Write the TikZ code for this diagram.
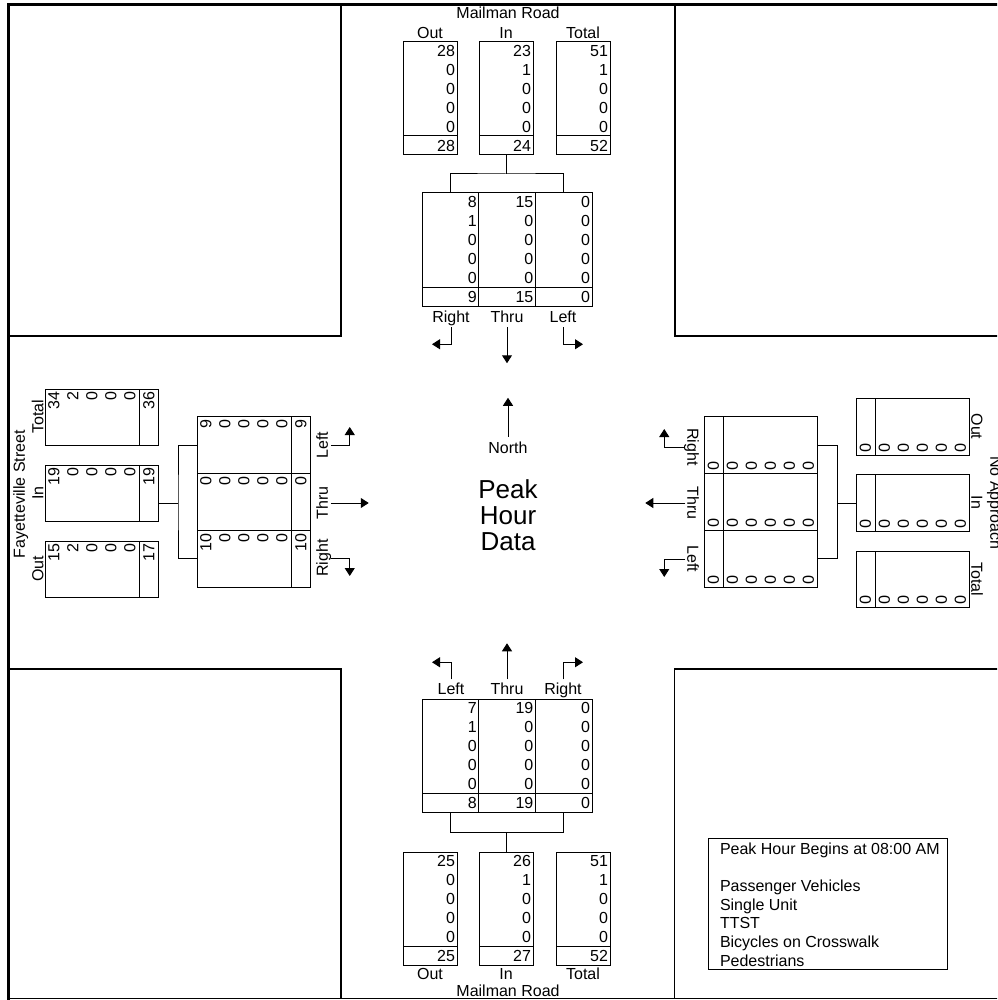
\documentclass[tikz,border=0pt]{standalone}
\usepackage{fontspec}
\setmainfont{Liberation Sans}
\usetikzlibrary{arrows.meta}
\newcommand\colTop[5]{%
  \foreach \v [count=\i from 0] in {#4}{\node[num,anchor=east] (#1-\i) at ({#2-2},{#3+8.5+19*\i}) {\v};}
  \node[num,anchor=east] (#1-t) at ({#2-2},{#3+103.5}) {#5};}
\newcommand\colLeft[5]{%
  \foreach \v [count=\i from 0] in {#4}{\node[num,rotate=90,anchor=east] (#1-\i) at ({#2+8.5+19*\i},{#3+3}) {\v};}
  \node[num,rotate=90,anchor=east] (#1-t) at ({#2+103.5},{#3+3}) {#5};}
\newcommand\colRight[5]{%
  \foreach \v [count=\i from 0] in {#4}{\node[num,rotate=-90,anchor=east] (#1-\i) at ({#2-8.5-19*\i},{#3-3}) {\v};}
  \node[num,rotate=-90,anchor=east] (#1-t) at ({#2-103.5},{#3-3}) {#5};}
\newcommand\sepS[1]{\draw[conn] ([yshift=19pt]#1.south west) -- ([yshift=19pt]#1.south east);}
\newcommand\sepE[1]{\draw[conn] ([xshift=-19pt]#1.north east) -- ([xshift=-19pt]#1.south east);}
\newcommand\sepW[1]{\draw[conn] ([xshift=19pt]#1.north west) -- ([xshift=19pt]#1.south west);}
\begin{document}
\begin{tikzpicture}[x=1pt,y=-1pt,
  every node/.style={inner sep=0pt, outer sep=0pt},
  num/.style={font=\fontsize{16}{19}\selectfont, text height=11.5pt, text depth=0pt},
  lbl/.style={font=\fontsize{16}{19}\selectfont, text height=11.5pt, text depth=0pt},
  big/.style={font=\fontsize{26}{29}\selectfont, text height=18.7pt, text depth=0pt},
  box/.style={draw, line width=1pt},
  hbox/.style={box, minimum width=54pt, minimum height=113pt},
  mbox/.style={box, minimum width=56.67pt, minimum height=113pt},
  vbox/.style={box, minimum width=113pt, minimum height=56.67pt},
  conn/.style={line width=1pt},
  arr/.style={line width=1pt, -{Triangle[length=8pt,width=10pt]}},
  frame/.style={line width=1.2pt}]
\useasboundingbox (0,0) rectangle (997,1000);
\clip (0,0) rectangle (997,1000);
% frame and corner blocks
\draw[line width=3.5pt] (8.5,1002) -- (8.5,4.5) -- (1002,4.5);
\draw[frame] (8.5,998.5) -- (1002,998.5);
\draw[frame] (8.5,336) -- (341,336) -- (341,4.5);
\draw[frame] (675,4.5) -- (675,336) -- (1002,336);
\draw[frame] (8.5,669) -- (341,669) -- (341,998.5);
\draw[frame] (1002,669) -- (674.5,669) -- (674.5,998.5);

% ===== North approach (Mailman Road) =====
\node[lbl] (tName) at (508,12.5) {Mailman Road};
\node[lbl] (tOutH) at (430,33) {Out};
\node[lbl] (tInH) at (506,33) {In};
\node[lbl] (tTotH) at (583,33) {Total};
\node[hbox] (tOut) at (430,98.5) {};
\node[hbox] (tIn) at (506,98.5) {};
\node[hbox] (tTot) at (583,98.5) {};
\sepS{tOut}\sepS{tIn}\sepS{tTot}
\colTop{tOutN}{457}{42}{28,0,0,0,0}{28}
\colTop{tInN}{533}{42}{23,1,0,0,0}{24}
\colTop{tTotN}{610}{42}{51,1,0,0,0}{52}
\node[mbox] (tR) at (450.33,249.5) {};
\node[mbox] (tT) at (507,249.5) {};
\node[mbox] (tL) at (563.67,249.5) {};
\sepS{tR}\sepS{tT}\sepS{tL}
\colTop{tRN}{478.67}{193}{8,1,0,0,0}{9}
\colTop{tTN}{535.33}{193}{15,0,0,0,0}{15}
\colTop{tLN}{592}{193}{0,0,0,0,0}{0}
\draw[conn] (tIn.south) -- ++(0,19) coordinate (tj);
\draw[conn] (tR.north) |- (tj) -| (tL.north);
\node[lbl] (tRl) at (451,316.5) {Right};
\node[lbl] (tTl) at (507,316.5) {Thru};
\node[lbl] (tLl) at (563,316.5) {Left};
\draw[arr] ([yshift=-5pt]tRl.south) -- ++(0,17) -- ++(-19,0);
\draw[arr] ([yshift=-5pt]tTl.south) -- ++(0,36);
\draw[arr] ([yshift=-5pt]tLl.south) -- ++(0,17) -- ++(20,0);

% ===== South approach (Mailman Road) =====
\node[lbl] (bLl) at (451,689) {Left};
\node[lbl] (bTl) at (507,689) {Thru};
\node[lbl] (bRl) at (563,689) {Right};
\draw[arr] ([yshift=4pt]bLl.north) -- ++(0,-17) -- ++(-19,0);
\draw[arr] ([yshift=4pt]bTl.north) -- ++(0,-36);
\draw[arr] ([yshift=4pt]bRl.north) -- ++(0,-17) -- ++(20,0);
\node[mbox] (bL) at (450.33,755.5) {};
\node[mbox] (bT) at (507,755.5) {};
\node[mbox] (bR) at (563.67,755.5) {};
\sepS{bL}\sepS{bT}\sepS{bR}
\colTop{bLN}{478.67}{699}{7,1,0,0,0}{8}
\colTop{bTN}{535.33}{699}{19,0,0,0,0}{19}
\colTop{bRN}{592}{699}{0,0,0,0,0}{0}
\node[hbox] (bOut) at (430,908.5) {};
\node[hbox] (bIn) at (506,908.5) {};
\node[hbox] (bTot) at (583,908.5) {};
\sepS{bOut}\sepS{bIn}\sepS{bTot}
\colTop{bOutN}{457}{852}{25,0,0,0,0}{25}
\colTop{bInN}{533}{852}{26,1,0,0,0}{27}
\colTop{bTotN}{610}{852}{51,1,0,0,0}{52}
\draw[conn] (bIn.north) -- ++(0,-20) coordinate (bj);
\draw[conn] (bL.south) |- (bj) -| (bR.south);
\node[lbl] (bOutH) at (430,974) {Out};
\node[lbl] (bInH) at (506,974) {In};
\node[lbl] (bTotH) at (583,974) {Total};
\node[lbl] (bName) at (508,990.5) {Mailman Road};

% ===== West approach (Fayetteville Street) =====
\node[lbl,rotate=90] (lName) at (19,494) {Fayetteville Street};
\node[lbl,rotate=90] (lTotH) at (37.5,417) {Total};
\node[lbl,rotate=90] (lInH) at (37.5,493) {In};
\node[lbl,rotate=90] (lOutH) at (37.5,569) {Out};
\node[vbox, minimum height=56pt] (lTot) at (101.5,417) {};
\node[vbox, minimum height=56pt] (lIn) at (101.5,493) {};
\node[vbox, minimum height=56pt] (lOut) at (101.5,569) {};
\sepE{lTot}\sepE{lIn}\sepE{lOut}
\colLeft{lTotN}{45}{389}{34,2,0,0,0}{36}
\colLeft{lInN}{45}{465}{19,0,0,0,0}{19}
\colLeft{lOutN}{45}{541}{15,2,0,0,0}{17}
\node[vbox] (lL) at (253.5,445.33) {};
\node[vbox] (lT) at (253.5,502) {};
\node[vbox] (lR) at (253.5,558.67) {};
\sepE{lL}\sepE{lT}\sepE{lR}
\colLeft{lLN}{197}{417}{9,0,0,0,0}{9}
\colLeft{lTN}{197}{473.67}{0,0,0,0,0}{0}
\colLeft{lRN}{197}{530.33}{10,0,0,0,0}{10}
\coordinate (lj) at (178,503);
\draw[conn] (lL.west) -| (lj) |- (lR.west);
\draw[conn] (lj) -- (lIn.east |- lj);
\node[lbl,rotate=90] (lLl) at (322,445) {Left};
\node[lbl,rotate=90] (lTl) at (322,503) {Thru};
\node[lbl,rotate=90] (lRl) at (322,558) {Right};
\draw[arr] ([xshift=3pt]lLl.south) -- ++(19,0) -- ++(0,-18);
\draw[arr] ([xshift=3pt]lTl.south) -- ++(38,0);
\draw[arr] ([xshift=3pt]lRl.south) -- ++(19,0) -- ++(0,18);

% ===== East approach (No Approach) =====
\node[vbox] (rR) at (760.5,445.33) {};
\node[vbox] (rT) at (760.5,502) {};
\node[vbox] (rL) at (760.5,558.67) {};
\sepW{rR}\sepW{rT}\sepW{rL}
\colRight{rRN}{817}{473.67}{0,0,0,0,0}{0}
\colRight{rTN}{817}{530.33}{0,0,0,0,0}{0}
\colRight{rLN}{817}{587}{0,0,0,0,0}{0}
\node[lbl,rotate=-90] (rRl) at (693,447) {Right};
\node[lbl,rotate=-90] (rTl) at (693,503) {Thru};
\node[lbl,rotate=-90] (rLl) at (693,559) {Left};
\draw[arr] ([xshift=-2pt]rRl.south) -- ++(-21,0) -- ++(0,-18);
\draw[arr] ([xshift=-2pt]rTl.south) -- ++(-40,0);
\draw[arr] ([xshift=-2pt]rLl.south) -- ++(-21,0) -- ++(0,18);
\coordinate (rj) at (837,503);
\draw[conn] (rR.east) -| (rj) |- (rL.east);
\node[vbox, minimum height=57pt] (rOut) at (912.5,426.5) {};
\node[vbox, minimum height=57pt] (rIn) at (912.5,502.5) {};
\node[vbox, minimum height=56pt] (rTot) at (912.5,579) {};
\sepW{rOut}\sepW{rIn}\sepW{rTot}
\draw[conn] (rj) -- (rIn.west |- rj);
\colRight{rOutN}{969}{455}{0,0,0,0,0}{0}
\colRight{rInN}{969}{531}{0,0,0,0,0}{0}
\colRight{rTotN}{969}{607}{0,0,0,0,0}{0}
\node[lbl,rotate=-90] (rOutH) at (977,426.5) {Out};
\node[lbl,rotate=-90] (rInH) at (977,502.5) {In};
\node[lbl,rotate=-90] (rTotH) at (977,579) {Total};
\node[lbl,rotate=-90] (rName) at (996,503) {No Approach};

% ===== centre =====
\node[lbl] (north) at (508,447.5) {North};
\draw[arr] ([yshift=5pt]north.north) -- ++(0,-39);
\node[big] (pk1) at (508,489) {Peak};
\node[big] (pk2) at (508,515) {Hour};
\node[big] (pk3) at (508,541) {Data};

% ===== legend =====
\node[box, minimum width=239pt, minimum height=131pt] (legend) at (827.5,903.5) {};
\node[lbl,anchor=west] (lg1) at (720,849) {Peak Hour Begins at 08:00 AM};
\node[lbl,anchor=west] (lg2) at (720,886) {Passenger Vehicles};
\node[lbl,anchor=west] (lg3) at (720,904.5) {Single Unit};
\node[lbl,anchor=west] (lg4) at (720,923) {TTST};
\node[lbl,anchor=west] (lg5) at (720,942) {Bicycles on Crosswalk};
\node[lbl,anchor=west] (lg6) at (720,961) {Pedestrians};
\end{tikzpicture}
\end{document}
